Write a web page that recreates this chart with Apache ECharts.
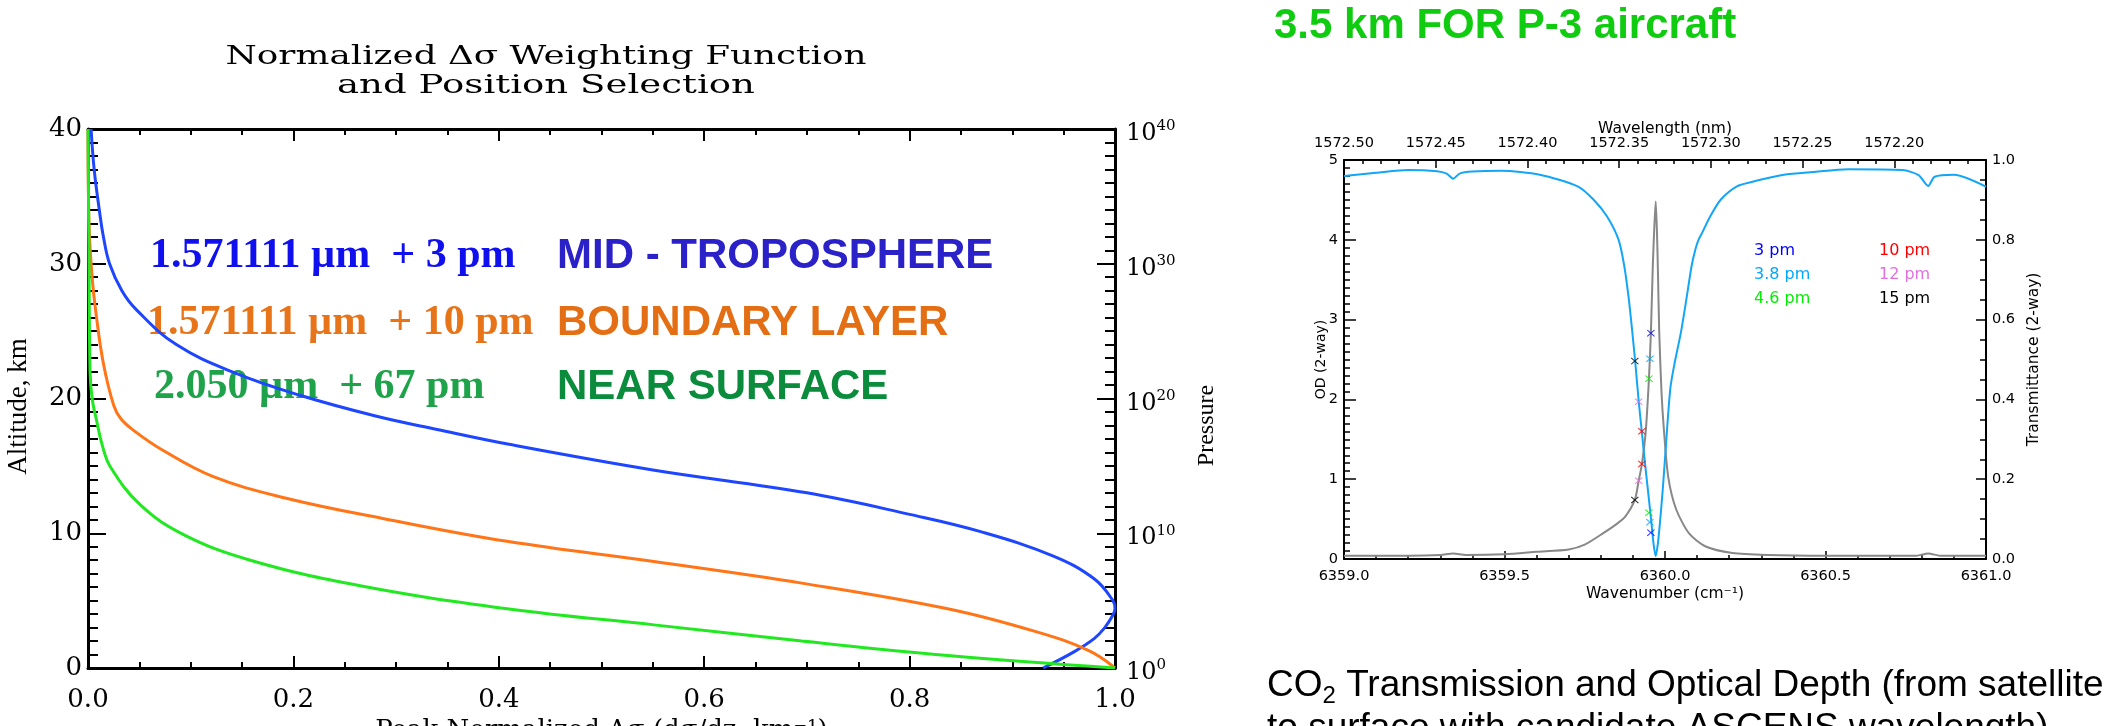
<!DOCTYPE html>
<html>
<head>
<meta charset="utf-8">
<title>Weighting functions and CO2 transmission</title>
<script src="https://cdn.jsdelivr.net/npm/echarts@6/dist/echarts.min.js"></script>
<style>
  html, body { margin: 0; padding: 0; background: #fff; }
  #main { width: 2107px; height: 726px; }
</style>
</head>
<body>
<div id="main"></div>
<script>
// ---- left panel: normalized weighting functions (x) vs altitude in km (y)
const midTropAlt = [40, 37, 34, 32, 30, 28, 26.6, 24, 21.9, 20.2, 18.7, 17.7, 16.6, 14.7, 13.0, 11.4, 10.1, 8.3, 6.6, 5.0, 4.4, 3.8, 3.0, 2.2, 1.2, 0];
const midTropWf  = [0.003, 0.006, 0.011, 0.015, 0.021, 0.033, 0.047, 0.086, 0.143, 0.208, 0.28, 0.34, 0.41, 0.55, 0.70, 0.80, 0.87, 0.94, 0.98, 0.998, 1.0, 0.997, 0.99, 0.98, 0.96, 0.93];

const boundaryAlt = [40, 33, 29, 26.2, 22.6, 19.5, 18.5, 17.6, 16.2, 14.2, 12.6, 11.1, 9.4, 7.9, 6.3, 4.4, 2.7, 1.3, 0];
const boundaryWf  = [0, 0.001, 0.004, 0.008, 0.015, 0.025, 0.032, 0.045, 0.072, 0.122, 0.193, 0.287, 0.408, 0.551, 0.695, 0.837, 0.923, 0.974, 1.0];

const surfaceAlt = [40, 30, 22, 20, 18.5, 16.5, 14.9, 12.1, 9.9, 8.0, 6.1, 4.4, 3.2, 2.0, 0.93, 0];
const surfaceWf  = [0, 0.001, 0.002, 0.004, 0.008, 0.014, 0.022, 0.051, 0.093, 0.158, 0.265, 0.408, 0.551, 0.695, 0.837, 1.0];

// ---- right panel: transmittance (right axis) and optical depth (left axis) vs wavenumber
const transNu = [6359.000, 6359.100, 6359.200, 6359.290, 6359.320, 6359.340, 6359.360, 6359.400, 6359.490, 6359.610,
  6359.728, 6359.777, 6359.819, 6359.855, 6359.873, 6359.887, 6359.898, 6359.908, 6359.918, 6359.928,
  6359.938, 6359.948, 6359.958, 6359.964, 6359.971, 6359.978, 6359.984, 6359.992, 6360.001, 6360.009,
  6360.017, 6360.029, 6360.050, 6360.067, 6360.083, 6360.095, 6360.105, 6360.116, 6360.141, 6360.174,
  6360.224, 6360.270, 6360.370, 6360.460, 6360.570, 6360.740, 6360.790, 6360.820, 6360.840, 6360.900, 6361.000];
const trans = [0.960, 0.968, 0.975, 0.972, 0.966, 0.953, 0.966, 0.971, 0.973, 0.963,
  0.934, 0.901, 0.859, 0.801, 0.735, 0.653, 0.570, 0.487, 0.396, 0.317,
  0.238, 0.164, 0.089, 0.040, 0.007, 0.040, 0.089, 0.164, 0.263, 0.354,
  0.430, 0.487, 0.570, 0.653, 0.735, 0.777, 0.801, 0.818, 0.859, 0.901,
  0.934, 0.945, 0.963, 0.970, 0.977, 0.975, 0.962, 0.935, 0.958, 0.963, 0.933];

const odNu = [6359.00, 6359.20, 6359.30, 6359.34, 6359.38, 6359.50, 6359.60, 6359.70, 6359.75, 6359.81,
  6359.85, 6359.876, 6359.906, 6359.918, 6359.928, 6359.940, 6359.950, 6359.956, 6359.962, 6359.966,
  6359.971, 6359.975, 6359.978, 6359.982, 6359.989, 6359.996, 6360.010, 6360.035, 6360.075, 6360.125,
  6360.21, 6360.32, 6360.50, 6360.78, 6360.82, 6360.86, 6361.00];
const od = [0.04, 0.04, 0.05, 0.07, 0.05, 0.06, 0.09, 0.12, 0.18, 0.33,
  0.44, 0.53, 0.74, 0.98, 1.19, 1.6, 2.26, 2.83, 3.67, 4.09,
  4.48, 4.09, 3.6, 2.85, 2.1, 1.65, 1.03, 0.62, 0.32, 0.16,
  0.075, 0.05, 0.04, 0.04, 0.07, 0.04, 0.04];

// candidate offsets from line centre: one cross on each curve
const markerNames  = ['3 pm', '3.8 pm', '4.6 pm', '10 pm', '12 pm', '15 pm'];
const markerNu     = [6359.956, 6359.953, 6359.950, 6359.928, 6359.918, 6359.906];
const markerUpper  = [2.83, 2.51, 2.26, 1.60, 1.97, 2.48];
const markerLower  = [0.33, 0.46, 0.58, 1.19, 0.98, 0.74];
const markerColors = ['#0000ff', '#00a8ff', '#00ee00', '#ff0000', '#e070e0', '#000000'];

const titleLines = ['Normalized Δσ Weighting Function', 'and Position Selection'];

const zip = (xs, ys) => xs.map((x, i) => [x, ys[i]]);

const serif = 'DejaVu Serif';
const sans = 'DejaVu Sans';
const crossPath = 'path://M0,1L1,0L5,4L9,0L10,1L6,5L10,9L9,10L5,6L1,10L0,9L4,5Z';
const noSplit = { show: false };
const noTick = { show: false };

const boxes = [
  { left: 88, top: 129, width: 1027, height: 539 },
  { left: 1344, top: 160, width: 642, height: 399 }
];
const opposite = { left: 'right', right: 'left', top: 'bottom', bottom: 'top' };

function line(w) {
  return { onZero: false, lineStyle: { color: '#000', width: w } };
}

const xMain = [
  {
    gridIndex: 0, type: 'value', position: 'bottom', min: 0, max: 1, interval: 0.2,
    axisLine: line(3), axisTick: noTick, splitLine: noSplit,
    axisLabel: { formatter: v => v.toFixed(1), fontFamily: serif, fontSize: 26, color: '#000', margin: 19 },
    name: 'Peak Normalized Δσ (dσ/dz, km⁻¹)', nameLocation: 'middle', nameGap: 50, nameMoveOverlap: false,
    nameTextStyle: { fontFamily: serif, fontSize: 26, color: '#000' }
  },
  {
    gridIndex: 0, type: 'value', position: 'top', min: 0, max: 1, interval: 0.2,
    axisLine: line(3), axisTick: noTick, splitLine: noSplit,
    axisLabel: { show: false }
  },
  {
    gridIndex: 1, type: 'value', position: 'bottom', min: 6359, max: 6361, interval: 0.5,
    axisLine: line(2), axisTick: noTick, splitLine: noSplit,
    axisLabel: { formatter: v => v.toFixed(1), fontFamily: sans, fontSize: 14.5, color: '#000', margin: 10 },
    name: 'Wavenumber (cm⁻¹)', nameLocation: 'middle', nameGap: 27, nameMoveOverlap: false,
    nameTextStyle: { fontFamily: sans, fontSize: 15.5, color: '#000' }
  },
  {
    gridIndex: 1, type: 'value', position: 'top', inverse: true, min: 1572.15, max: 1572.50, interval: 0.05,
    axisLine: line(2), axisTick: noTick, splitLine: noSplit,
    axisLabel: { formatter: v => (v < 1572.17 ? '' : v.toFixed(2)), fontFamily: sans, fontSize: 14.5, color: '#000', margin: 9 },
    name: 'Wavelength (nm)', nameLocation: 'middle', nameGap: 23, nameMoveOverlap: false,
    nameTextStyle: { fontFamily: sans, fontSize: 15.5, color: '#000' }
  }
];

const yMain = [
  {
    gridIndex: 0, type: 'value', position: 'left', min: 0, max: 40, interval: 10,
    axisLine: line(3), axisTick: noTick, splitLine: noSplit,
    axisLabel: { fontFamily: serif, fontSize: 26, color: '#000', margin: 6 },
    name: 'Altitude, km', nameLocation: 'middle', nameGap: 56, nameRotate: 90, nameMoveOverlap: false,
    nameTextStyle: { fontFamily: 'Liberation Serif', fontSize: 27, color: '#000', padding: [0, 16, 0, 0] }
  },
  {
    gridIndex: 0, type: 'value', position: 'right', min: 0, max: 40, interval: 10,
    axisLine: line(3), axisTick: noTick, splitLine: noSplit,
    axisLabel: {
      margin: 11, color: '#000', padding: [10, 0, 0, 0],
      formatter: v => '{b|10}{s|' + v + '}',
      rich: {
        b: { fontFamily: serif, fontSize: 24, lineHeight: 30, color: '#000' },
        s: { fontFamily: serif, fontSize: 15, lineHeight: 15, verticalAlign: 'top', color: '#000' }
      }
    },
    name: 'Pressure', nameLocation: 'middle', nameGap: 80, nameRotate: 90, nameMoveOverlap: false,
    nameTextStyle: { fontFamily: 'Liberation Serif', fontSize: 24, color: '#000', padding: [0, 54, 0, 0] }
  },
  {
    gridIndex: 1, type: 'value', position: 'left', min: 0, max: 5, interval: 1,
    axisLine: line(2), axisTick: noTick, splitLine: noSplit,
    axisLabel: { fontFamily: sans, fontSize: 14.5, color: '#000', margin: 6 },
    name: 'OD (2-way)', nameLocation: 'middle', nameGap: 16, nameRotate: 90, nameMoveOverlap: false,
    nameTextStyle: { fontFamily: sans, fontSize: 14, color: '#000' }
  },
  {
    gridIndex: 1, type: 'value', position: 'right', min: 0, max: 1, interval: 0.2,
    axisLine: line(2), axisTick: noTick, splitLine: noSplit,
    axisLabel: { formatter: v => v.toFixed(1), fontFamily: sans, fontSize: 14.5, color: '#000', margin: 6 },
    name: 'Transmittance (2-way)', nameLocation: 'middle', nameGap: 40, nameRotate: 90, nameMoveOverlap: false,
    nameTextStyle: { fontFamily: sans, fontSize: 15.5, color: '#000' }
  }
];

const grids = boxes.map(b => Object.assign({ outerBoundsMode: 'none' }, b));
const xAxes = xMain.slice();
const yAxes = yMain.slice();

// IDL-style ticks pointing into the plot box: a thin helper grid touches each edge of the box
// from outside, and an unlabelled axis on its shared border draws ordinary outward ticks,
// which therefore face into the plot.
function addEdge(base, dim, major, majorLen, minorStep, minorLen, w) {
  const g = boxes[base.gridIndex];
  const T = 20;
  const side = base.position;
  const rect = {
    left:   { left: g.left - T, top: g.top, width: T, height: g.height },
    right:  { left: g.left + g.width, top: g.top, width: T, height: g.height },
    top:    { left: g.left, top: g.top - T, width: g.width, height: T },
    bottom: { left: g.left, top: g.top + g.height, width: g.width, height: T }
  }[side];
  const gi = grids.length;
  grids.push(Object.assign({ outerBoundsMode: 'none' }, rect));
  const mk = (step, len) => ({
    gridIndex: gi, type: 'value', position: opposite[side], inverse: !!base.inverse,
    min: base.min, max: base.max, interval: step, silent: true,
    axisLine: { show: false, onZero: false }, axisLabel: { show: false }, splitLine: noSplit,
    axisTick: { show: true, length: len, lineStyle: { color: '#000', width: w } }
  });
  const dummy = { gridIndex: gi, type: 'value', show: false, min: 0, max: 1, axisLine: { onZero: false } };
  if (dim === 'x') { xAxes.push(mk(major, majorLen), mk(minorStep, minorLen)); yAxes.push(dummy); }
  else { yAxes.push(mk(major, majorLen), mk(minorStep, minorLen)); xAxes.push(dummy); }
}
addEdge(xMain[0], 'x', 0.2, 12, 0.05, 6, 2);
addEdge(xMain[1], 'x', 0.2, 12, 0.05, 6, 2);
addEdge(yMain[0], 'y', 10, 18, 1, 10, 2);
addEdge(yMain[1], 'y', 10, 18, 1, 10, 2);
addEdge(xMain[2], 'x', 0.5, 8, 0.1, 4, 1.5);
addEdge(xMain[3], 'x', 0.05, 8, 0.01, 4, 1.5);
addEdge(yMain[2], 'y', 1, 12, 0.1, 6, 1.5);
addEdge(yMain[3], 'y', 0.2, 10, 0.05, 6, 1.5);

// the plot title uses a wide vector-style face: stretch a serif font to the same width
const measure = document.createElement('canvas').getContext('2d');
measure.font = '26px "DejaVu Serif"';
const titleWidths = [641, 418];
function titleText(i, y) {
  const s = titleWidths[i] / measure.measureText(titleLines[i]).width;
  return {
    type: 'text', x: 546, y: y, scaleX: s,
    style: { text: titleLines[i], fontFamily: serif, fontSize: 26, fill: '#000', align: 'center', textAlign: 'center', verticalAlign: 'middle', textVerticalAlign: 'middle' }
  };
}

const chart = echarts.init(document.getElementById('main'));

const option = {
  animation: false,
  backgroundColor: '#fff',
  grid: grids,
  xAxis: xAxes,
  yAxis: yAxes,
  legend: [
    {
      data: markerNames.slice(0, 3).map((n, i) => ({ name: n, textStyle: { color: markerColors[i] } })),
      orient: 'vertical', left: 1744, top: 238, icon: 'none', itemWidth: 0, itemHeight: 16, itemGap: 8,
      selectedMode: false, textStyle: { fontFamily: sans, fontSize: 16 }
    },
    {
      data: markerNames.slice(3).map((n, i) => ({ name: n, textStyle: { color: markerColors[i + 3] } })),
      orient: 'vertical', left: 1869, top: 238, icon: 'none', itemWidth: 0, itemHeight: 16, itemGap: 8,
      selectedMode: false, textStyle: { fontFamily: sans, fontSize: 16 }
    }
  ],
  series: [
    {
      name: 'MID - TROPOSPHERE', type: 'line', xAxisIndex: 0, yAxisIndex: 0,
      data: zip(midTropWf, midTropAlt), showSymbol: false, smooth: 0.4,
      lineStyle: { color: '#1e46ff', width: 3 }, itemStyle: { color: '#1e46ff' }
    },
    {
      name: 'BOUNDARY LAYER', type: 'line', xAxisIndex: 0, yAxisIndex: 0,
      data: zip(boundaryWf, boundaryAlt), showSymbol: false, smooth: 0.4,
      lineStyle: { color: '#ff7518', width: 3 }, itemStyle: { color: '#ff7518' }
    },
    {
      name: 'NEAR SURFACE', type: 'line', xAxisIndex: 0, yAxisIndex: 0,
      data: zip(surfaceWf, surfaceAlt), showSymbol: false, smooth: 0.4,
      lineStyle: { color: '#22e822', width: 3 }, itemStyle: { color: '#22e822' }
    },
    {
      name: 'OD', type: 'line', xAxisIndex: 2, yAxisIndex: 2,
      data: zip(odNu, od), showSymbol: false, smooth: 0.25,
      lineStyle: { color: '#888888', width: 2 }, itemStyle: { color: '#888888' }
    },
    {
      name: 'Transmittance', type: 'line', xAxisIndex: 2, yAxisIndex: 3,
      data: zip(transNu, trans), showSymbol: false, smooth: 0.25,
      lineStyle: { color: '#12a6f5', width: 2 }, itemStyle: { color: '#12a6f5' }
    }
  ].concat(markerNames.map((n, i) => ({
    name: n, type: 'scatter', xAxisIndex: 2, yAxisIndex: 2,
    data: [[markerNu[i], markerUpper[i]], [markerNu[i], markerLower[i]]],
    symbol: crossPath, symbolSize: [8, 7], itemStyle: { color: markerColors[i] }, z: 5
  }))),
  graphic: [
    titleText(0, 57),
    titleText(1, 86),

    { type: 'text', x: 150, y: 256, style: { text: '1.571111 µm  + 3 pm', fontFamily: 'Liberation Serif', fontWeight: 'bold', fontSize: 42, fill: '#1010ee', verticalAlign: 'middle', textVerticalAlign: 'middle' } },
    { type: 'text', x: 557, y: 256, style: { text: 'MID - TROPOSPHERE', fontFamily: 'Liberation Sans', fontWeight: 'bold', fontSize: 42, fill: '#2a22c8', verticalAlign: 'middle', textVerticalAlign: 'middle' } },
    { type: 'text', x: 147, y: 323, style: { text: '1.571111 µm  + 10 pm', fontFamily: 'Liberation Serif', fontWeight: 'bold', fontSize: 42, fill: '#e8741a', verticalAlign: 'middle', textVerticalAlign: 'middle' } },
    { type: 'text', x: 557, y: 323, style: { text: 'BOUNDARY LAYER', fontFamily: 'Liberation Sans', fontWeight: 'bold', fontSize: 42, fill: '#e46e14', verticalAlign: 'middle', textVerticalAlign: 'middle' } },
    { type: 'text', x: 154, y: 387, style: { text: '2.050 µm  + 67 pm', fontFamily: 'Liberation Serif', fontWeight: 'bold', fontSize: 42, fill: '#1ea24a', verticalAlign: 'middle', textVerticalAlign: 'middle' } },
    { type: 'text', x: 557, y: 387, style: { text: 'NEAR SURFACE', fontFamily: 'Liberation Sans', fontWeight: 'bold', fontSize: 42, fill: '#0b8c3c', verticalAlign: 'middle', textVerticalAlign: 'middle' } },

    { type: 'text', x: 1274, y: 26, style: { text: '3.5 km FOR P-3 aircraft', fontFamily: 'Liberation Sans', fontWeight: 'bold', fontSize: 42, fill: '#10cc10', verticalAlign: 'middle', textVerticalAlign: 'middle' } },

    {
      type: 'text', x: 1267, y: 686,
      style: {
        text: '{a|CO}{b|2}{a| Transmission and Optical Depth (from satellite}',
        fill: '#000', verticalAlign: 'middle', textVerticalAlign: 'middle',
        rich: {
          a: { fontFamily: 'Liberation Sans', fontSize: 37, lineHeight: 44, verticalAlign: 'middle' },
          b: { fontFamily: 'Liberation Sans', fontSize: 24, lineHeight: 24, verticalAlign: 'bottom' }
        }
      }
    },
    { type: 'text', x: 1267, y: 729, style: { text: 'to surface with candidate ASCENS wavelength)', fontFamily: 'Liberation Sans', fontSize: 37, fill: '#000', verticalAlign: 'middle', textVerticalAlign: 'middle' } }
  ]
};

chart.setOption(option);
</script>
</body>
</html>
